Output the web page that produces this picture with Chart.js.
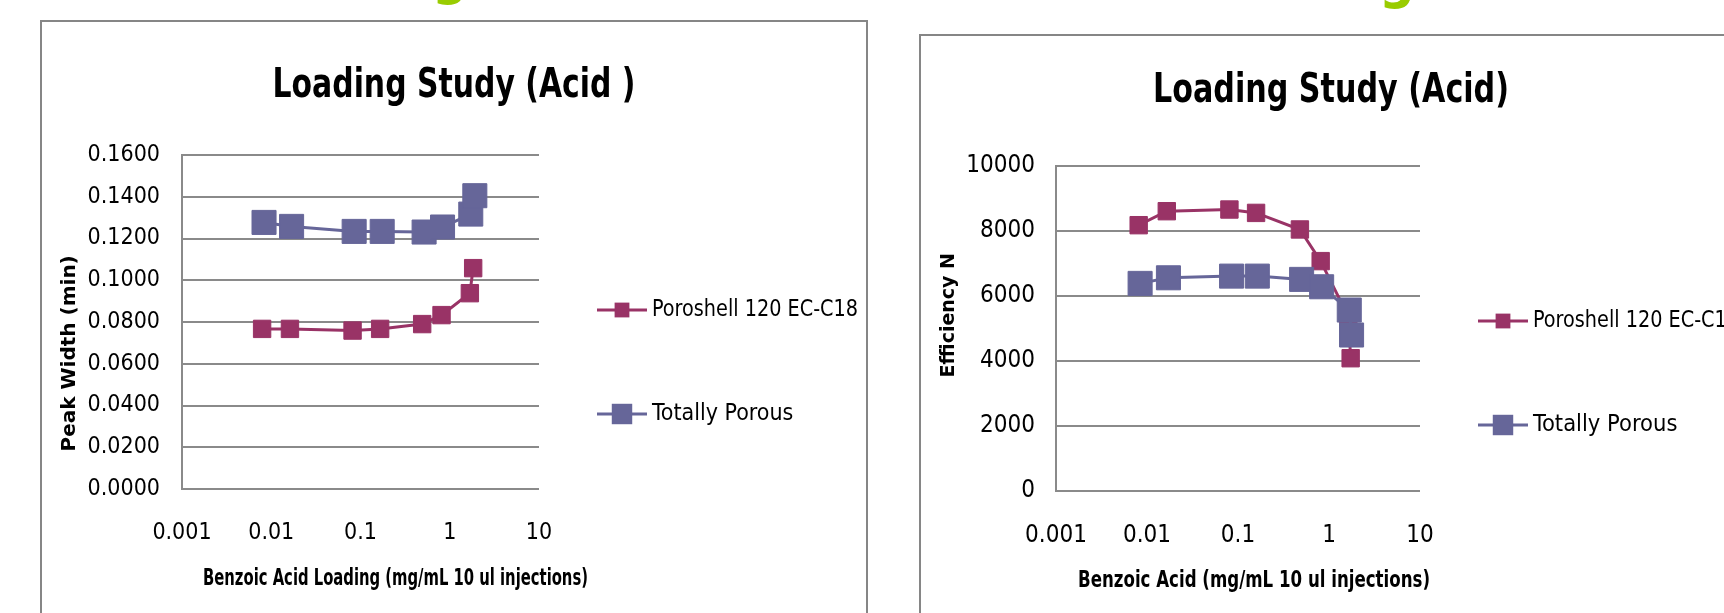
<!DOCTYPE html>
<html>
<head>
<meta charset="utf-8">
<title>Loading Study (Acid)</title>
<script src="https://cdn.jsdelivr.net/npm/chart.js@4.4.1/dist/chart.umd.min.js"></script>
<style>
  html, body {
    margin: 0;
    padding: 0;
    width: 1724px;
    height: 613px;
    overflow: hidden;
    background: #fff;
    position: relative;
  }
  .panel {
    position: absolute;
    border: 2px solid #868686;
    background: #fff;
  }
  #panel-width { left: 40px; top: 20px; width: 824px; height: 640px; }
  #panel-eff { left: 919px; top: 34px; width: 900px; height: 640px; }
  canvas { display: block; }
  /* bits of the slide heading that stick in from above */
  .heading {
    position: absolute;
    color: #99cc00;
    font: bold 56px/56px "Liberation Sans Narrow", "DejaVu Sans Condensed", sans-serif;
  }
</style>
</head>
<body>
<div class="heading" style="left:432px; top:-54px;">g</div>
<div class="heading" style="left:1379px; top:-50px;">g</div>

<div class="panel" id="panel-width"><canvas id="width-chart" width="824" height="600"></canvas></div>
<div class="panel" id="panel-eff"><canvas id="eff-chart" width="820" height="600"></canvas></div>

<script>
// Series names
const seriesNames = ["Poroshell 120 EC-C18", "Totally Porous"];

// Left panel: peak width (min) vs benzoic acid loading (mg/mL)
const widthLoadingPoroshell = [0.0079, 0.0162, 0.0815, 0.166, 0.491, 0.809, 1.68, 1.83];
const widthPoroshell = [0.0767, 0.0767, 0.0759, 0.0767, 0.079, 0.0833, 0.0938, 0.1058];
const widthLoadingPorous = [0.0083, 0.0169, 0.0849, 0.175, 0.516, 0.83, 1.72, 1.91];
const widthPorous = [0.1277, 0.1258, 0.1234, 0.1234, 0.1231, 0.1255, 0.1317, 0.1405];

// Right panel: efficiency N vs benzoic acid loading (mg/mL)
const effLoadingPoroshell = [0.0081, 0.0165, 0.0805, 0.158, 0.479, 0.81, 1.63, 1.73];
const effPoroshell = [8179, 8609, 8661, 8557, 8047, 7073, 5363, 4085];
const effLoadingPorous = [0.0084, 0.0172, 0.085, 0.163, 0.5, 0.83, 1.67, 1.77];
const effPorous = [6388, 6560, 6612, 6612, 6511, 6284, 5568, 4800];

// Axis ticks
const xTickValues = [0.001, 0.01, 0.1, 1, 10];
const xTickLabels = ["0.001", "0.01", "0.1", "1", "10"];
const widthTickValues = [0, 0.02, 0.04, 0.06, 0.08, 0.1, 0.12, 0.14, 0.16];
const widthTickLabels = ["0.0000", "0.0200", "0.0400", "0.0600", "0.0800", "0.1000", "0.1200", "0.1400", "0.1600"];
const effTickValues = [0, 2000, 4000, 6000, 8000, 10000];
const effTickLabels = ["0", "2000", "4000", "6000", "8000", "10000"];

const NARROW = '"Liberation Sans Narrow", "DejaVu Sans Condensed", sans-serif';
const WIDE = '"DejaVu Sans", Verdana, sans-serif';
const GRID = "#8a8a8a";
const RED = "#993366";
const BLUE = "#666699";

// The y titles sit a little off the axis centre in the original; pad with spaces
const pad = (n) => "\u00a0".repeat(n);

// Legend box on the right plus the chart/x-axis captions.
// Captions are squeezed to the original's narrow widths through maxWidth.
function extras(p) {
  return {
    id: "extras",
    beforeInit(chart) {
      const box = {
        position: "right",
        weight: 100,
        fullSize: false,
        options: {},
        isHorizontal() {
          return false;
        },
        update(maxWidth, maxHeight) {
          this.width = p.legendWidth;
          this.height = maxHeight;
        },
        draw() {
          const ctx = chart.ctx;
          const area = chart.chartArea;
          const items = chart.data.datasets.slice().sort((a, b) => a.legendIndex - b.legendIndex);
          ctx.save();
          items.forEach((ds, i) => {
            const x0 = area.right + 58;
            const y = area.top + 155 + i * 104;
            ctx.strokeStyle = ds.borderColor;
            ctx.lineWidth = 3;
            ctx.beginPath();
            ctx.moveTo(x0, y);
            ctx.lineTo(x0 + 50, y);
            ctx.stroke();
            const side = ds.pointRadius * Math.SQRT2 * 0.85;
            ctx.fillStyle = ds.pointBackgroundColor;
            ctx.fillRect(x0 + 25 - side / 2, y - side / 2, side, side);
            ctx.fillStyle = "#000";
            ctx.font = `${p.legendFont}px ${NARROW}`;
            ctx.textBaseline = "middle";
            ctx.textAlign = "left";
            ctx.fillText(ds.label, x0 + 55, y, p.legendMaxWidth);
          });
          ctx.restore();
        },
      };
      Chart.layouts.addBox(chart, box);
    },
    afterDraw(chart) {
      const ctx = chart.ctx;
      const area = chart.chartArea;
      ctx.save();
      ctx.fillStyle = "#000";
      ctx.textAlign = "center";
      ctx.textBaseline = "middle";

      // Chart title
      ctx.font = `bold ${p.titleSize}px ${NARROW}`;
      ctx.fillText(p.title, chart.width / 2, p.titleY, p.titleWidth);

      // X axis title
      ctx.font = `bold ${p.xTitleFont}px ${NARROW}`;
      ctx.fillText(p.xTitle, (area.left + area.right) / 2 + p.xTitleShift, area.bottom + 90.5, p.xTitleWidth);
      ctx.restore();
    },
  };
}

function buildChart(canvasId, p) {
  const datasets = p.series.map((s) => ({
    label: s.name,
    legendIndex: s.legendIndex,
    order: s.order,
    data: s.x.map((x, j) => ({ x: x, y: s.y[j] })),
    borderColor: s.color,
    backgroundColor: s.color,
    pointBackgroundColor: s.color,
    pointBorderColor: s.color,
    pointStyle: "rect",
    pointRadius: s.radius,
    pointHoverRadius: s.radius,
    pointBorderWidth: 1,
    borderWidth: 3,
    tension: 0,
  }));

  return new Chart(document.getElementById(canvasId), {
    type: "line",
    data: { datasets: datasets },
    plugins: [extras(p)],
    options: {
      responsive: false,
      animation: false,
      devicePixelRatio: 1,
      layout: { padding: { top: p.plotTop, left: 0, right: 0, bottom: 0 } },
      plugins: {
        legend: { display: false },
        tooltip: { enabled: false },
        title: { display: false },
      },
      scales: {
        x: {
          type: "logarithmic",
          min: 0.001,
          max: 10,
          afterBuildTicks: (scale) => {
            scale.ticks = xTickValues.map((v) => ({ value: v }));
          },
          afterFit: (scale) => {
            scale.height = p.xAxisHeight;
          },
          grid: { display: false, drawTicks: false },
          border: { display: false },
          ticks: {
            autoSkip: false,
            maxRotation: 0,
            padding: p.xTickPad,
            color: "#000",
            font: { family: NARROW, size: p.tickFont },
            callback: (v, i) => xTickLabels[i],
          },
          title: { display: false },
        },
        y: {
          min: 0,
          max: p.yMax,
          afterBuildTicks: (scale) => {
            scale.ticks = p.yTickValues.map((v) => ({ value: v }));
          },
          afterFit: (scale) => {
            scale.width = p.yAxisWidth;
          },
          grid: { color: GRID, lineWidth: 2, drawTicks: false },
          border: { display: true, color: GRID, width: 2 },
          ticks: {
            padding: p.yTickPad,
            color: "#000",
            font: { family: NARROW, size: p.tickFont },
            callback: (v, i) => p.yTickLabels[i],
          },
          title: {
            display: true,
            text: p.yTitle,
            color: "#000",
            font: { family: WIDE, size: p.yTitleFont, weight: "bold", lineHeight: 1.2 },
            padding: { top: p.yTitlePad, bottom: 0 },
          },
        },
      },
    },
  });
}

buildChart("width-chart", {
  title: "Loading Study (Acid )",
  titleSize: 40,
  titleY: 65,
  titleWidth: 363,
  plotTop: 133,
  xTitle: "Benzoic Acid Loading (mg/mL 10 ul injections)",
  xTitleFont: 22.5,
  xTitleShift: 35,
  xTitleWidth: 385,
  xAxisHeight: 133,
  xTickPad: 30,
  yTitle: "Peak Width (min)" + pad(9),
  yTitleFont: 20,
  yTitlePad: 16,
  yAxisWidth: 140,
  yTickPad: 22,
  yMax: 0.16,
  yTickValues: widthTickValues,
  yTickLabels: widthTickLabels,
  tickFont: 23,
  legendWidth: 327,
  legendFont: 23,
  legendMaxWidth: 206,
  series: [
    { name: seriesNames[0], x: widthLoadingPoroshell, y: widthPoroshell, color: RED, radius: 12.3, order: 1, legendIndex: 0 },
    { name: seriesNames[1], x: widthLoadingPorous, y: widthPorous, color: BLUE, radius: 17, order: 0, legendIndex: 1 },
  ],
});

buildChart("eff-chart", {
  title: "Loading Study (Acid)",
  titleSize: 40,
  titleY: 56,
  titleWidth: 356,
  plotTop: 130,
  xTitle: "Benzoic Acid (mg/mL 10 ul injections)",
  xTitleFont: 23,
  xTitleShift: 16,
  xTitleWidth: 352,
  xAxisHeight: 145,
  xTickPad: 30,
  yTitle: pad(4) + "Efficiency N",
  yTitleFont: 19,
  yTitlePad: 17,
  yAxisWidth: 135,
  yTickPad: 21,
  yMax: 10000,
  yTickValues: effTickValues,
  yTickLabels: effTickLabels,
  tickFont: 24,
  legendWidth: 321,
  legendFont: 23.5,
  legendMaxWidth: 206,
  series: [
    { name: seriesNames[0], x: effLoadingPoroshell, y: effPoroshell, color: RED, radius: 12.3, order: 1, legendIndex: 0 },
    { name: seriesNames[1], x: effLoadingPorous, y: effPorous, color: BLUE, radius: 17, order: 0, legendIndex: 1 },
  ],
});
</script>
</body>
</html>
